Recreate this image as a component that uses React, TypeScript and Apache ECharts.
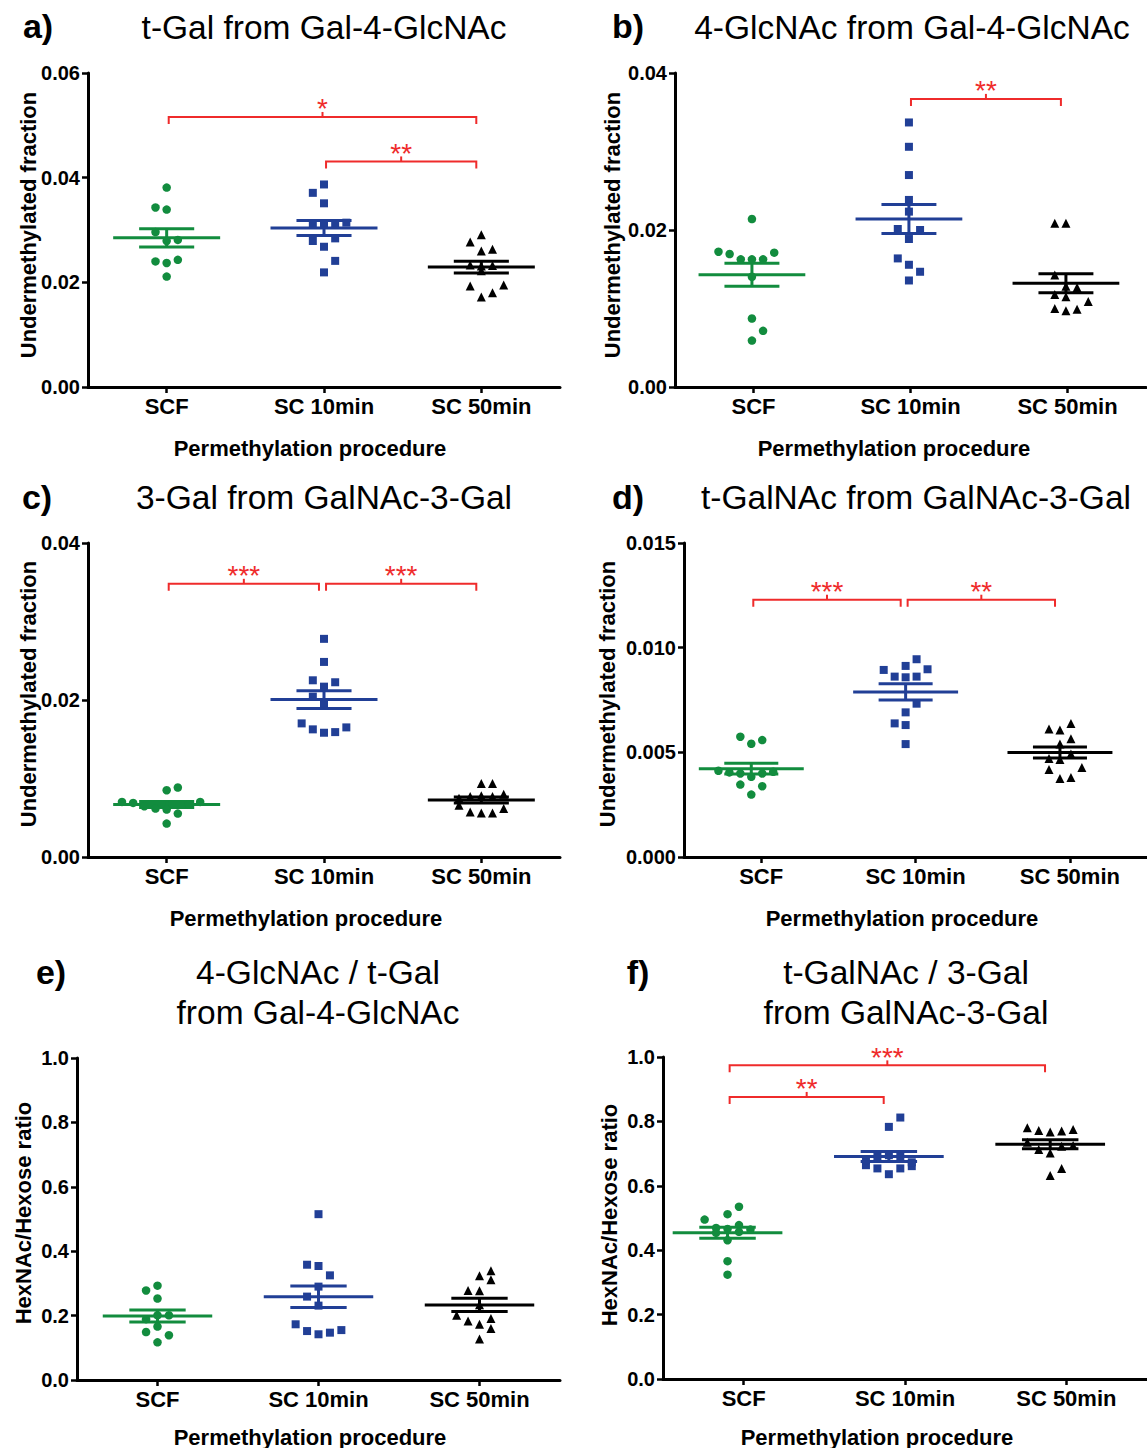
import React, { useEffect, useRef } from "react";
import * as echarts from "echarts";

const categories = ["SCF", "SC 10min", "SC 50min"];

// ---- Panel a: t-Gal from Gal-4-GlcNAc ----
const aSCF = [0.0381, 0.0343, 0.0339, 0.0296, 0.0279, 0.0281, 0.024, 0.0237, 0.0243, 0.0211];
const aSCFSlot = [0, -1, 0, -1, 0, 1, -1, 0, 1, 0];
const aSC10 = [0.0387, 0.0371, 0.0351, 0.0311, 0.0311, 0.0311, 0.0314, 0.0279, 0.0284, 0.0268, 0.0241, 0.0219];
const aSC10Slot = [0, -1, 0, -1, 0, 1, 2, -1, 1, 0, 1, 0];
const aSC50 = [0.0291, 0.0277, 0.026, 0.0263, 0.0233, 0.0231, 0.0232, 0.0222, 0.0193, 0.0195, 0.018, 0.0172];
const aSC50Slot = [0, -1, 0, 1, -1, 0, 1, 0, -1, 2, 1, 0];
const aBracketPairs = [[0, 2], [1, 2]];
const aBracketY = [0.0516, 0.0431];
const aBracketStars = ["*", "**"];

// ---- Panel b: 4-GlcNAc from Gal-4-GlcNAc ----
const bSCF = [0.0214, 0.01723, 0.01694, 0.01626, 0.01626, 0.01626, 0.01711, 0.01404, 0.00872, 0.00715, 0.00591];
const bSCFSlot = [0, -3, -2, -1, 0, 1, 2, 0, 0, 1, 0];
const bSC10 = [0.0337, 0.0306, 0.027, 0.02383, 0.02234, 0.02013, 0.02, 0.01885, 0.01638, 0.01557, 0.01468, 0.01357];
const bSC10Slot = [0, 0, 0, 0, 0, -1, 1, 0, -1, 0, 1, 0];
const bSC50 = [0.02085, 0.02085, 0.01426, 0.01285, 0.01268, 0.01179, 0.01149, 0.01089, 0.01, 0.0097, 0.00991];
const bSC50Slot = [-1, 0, -1, 0, 1, -1, 0, 2, -1, 0, 1];
const bBracketPairs = [[1, 2]];
const bBracketY = [0.0367];
const bBracketStars = ["**"];

// ---- Panel c: 3-Gal from GalNAc-3-Gal ----
const cSCF = [0.00851, 0.00885, 0.00702, 0.00689, 0.00647, 0.00617, 0.00604, 0.00672, 0.00702, 0.00553, 0.00426];
const cSCFSlot = [0, 1, -4, -3, -2, -1, 0, 2, 3, 1, 0];
const cSC10 = [0.02779, 0.02485, 0.02251, 0.02226, 0.0217, 0.02043, 0.01957, 0.01702, 0.01626, 0.01583, 0.01591, 0.01651];
const cSC10Slot = [0, 0, -1, 1, 0, -1, 0, -2, -1, 0, 1, 2];
const cSC50 = [0.00936, 0.00936, 0.008, 0.0075, 0.0077, 0.0078, 0.0077, 0.0066, 0.00574, 0.00562, 0.00562, 0.00617];
const cSC50Slot = [0, 1, 2, -2, -1, 0, 1, -2, -1, 0, 1, 2];
const cBracketPairs = [[0, 1], [1, 2]];
const cBracketY = [0.0348, 0.0348];
const cBracketStars = ["***", "***"];

// ---- Panel d: t-GalNAc from GalNAc-3-Gal ----
const dSCF = [0.005745, 0.00541, 0.005585, 0.00412, 0.00404, 0.00399, 0.00383, 0.00399, 0.00407, 0.00346, 0.00338, 0.00298];
const dSCFSlot = [-1, 0, 1, -3, -2, -1, 0, 1, 2, -1, 1, 0];
const dSC10 = [0.009447, 0.008936, 0.009128, 0.008968, 0.008617, 0.008585, 0.008617, 0.007324, 0.00691, 0.006383, 0.006303, 0.005394];
const dSC10Slot = [1, -2, 0, 2, -1, 0, 1, 1, 0, -1, 0, 0];
const dSC50 = [0.006383, 0.006112, 0.006064, 0.005649, 0.005394, 0.004915, 0.004707, 0.00466, 0.004181, 0.004277, 0.00375, 0.003798];
const dSC50Slot = [1, -1, 0, 1, 0, 1, -1, 0, -1, 2, 0, 1];
const dBracketPairs = [[0, 1], [1, 2]];
const dBracketY = [0.01229, 0.01229];
const dBracketStars = ["***", "**"];

// ---- Panel e: 4-GlcNAc / t-Gal ratio ----
const eSCF = [0.293, 0.278, 0.253, 0.201, 0.189, 0.201, 0.166, 0.149, 0.139, 0.117];
const eSCFSlot = [0, -1, 0, 1, -1, 0, 0, -1, 1, 0];
const eSC10 = [0.515, 0.358, 0.354, 0.325, 0.29, 0.259, 0.231, 0.173, 0.152, 0.142, 0.147, 0.155];
const eSC10Slot = [0, -1, 0, 1, 0, -1, 0, -2, -1, 0, 1, 2];
const eSC50 = [0.339, 0.324, 0.311, 0.278, 0.277, 0.234, 0.201, 0.191, 0.183, 0.173, 0.16, 0.127];
const eSC50Slot = [1, 0, 1, -1, 0, 0, -2, 1, -1, 0, 1, 0];
const eBracketPairs: number[][] = [];
const eBracketY: number[] = [];
const eBracketStars: string[] = [];

// ---- Panel f: t-GalNAc / 3-Gal ratio ----
const fSCF = [0.535, 0.512, 0.495, 0.469, 0.466, 0.478, 0.464, 0.431, 0.366, 0.324, 0.454, 0.457];
const fSCFSlot = [1, 0, -2, -1, 0, 1, 2, 0, 0, 0, -1, 1];
const fSC10 = [0.812, 0.783, 0.664, 0.654, 0.654, 0.661, 0.636, 0.69, 0.695, 0.69, 0.68, 0.673];
const fSC10Slot = [1, 0, -2, -1, 1, 2, 0, -1, 0, 1, -2, 2];
const fSC50 = [0.78, 0.772, 0.767, 0.77, 0.775, 0.713, 0.702, 0.654, 0.632, 0.735, 0.723, 0.725];
const fSC50Slot = [-2, -1, 0, 1, 2, -1, 0, 1, 0, -2, 1, 2];
const fBracketPairs = [[0, 2], [0, 1]];
const fBracketY = [0.974, 0.876];
const fBracketStars = ["***", "**"];

// ---- styling / layout ----
const W = 1147;
const H = 1448;
const FONT = '"Liberation Sans", Arial, sans-serif';
const GREEN = "#128c3e";
const BLUE = "#213f96";
const BLACK = "#000000";
const RED = "#ef2b2b";
const SLOT = 0.071;
const groupStyles = [
  { color: GREEN, symbol: "circle", size: 8.5 },
  { color: BLUE, symbol: "rect", size: 8 },
  { color: BLACK, symbol: "triangle", size: 9 },
];

const UM = "Undermethylated fraction";
const HX = "HexNAc/Hexose ratio";
const XN = "Permethylation procedure";

const panels = [
  {
    letter: "a)", letterPos: [38, 26], title: ["t-Gal from Gal-4-GlcNAc"], titlePos: [324, 27],
    yName: UM, yNamePos: [28, 225], xNamePos: [310, 448],
    grid: { left: 88, top: 73, width: 472, height: 314 }, yMax: 0.06, yInterval: 0.02, digits: 2, shift: 0,
    groups: [aSCF, aSC10, aSC50], slots: [aSCFSlot, aSC10Slot, aSC50Slot],
    bPairs: aBracketPairs, bY: aBracketY, bStars: aBracketStars,
  },
  {
    letter: "b)", letterPos: [628, 26], title: ["4-GlcNAc from Gal-4-GlcNAc"], titlePos: [912, 27],
    yName: UM, yNamePos: [612, 225], xNamePos: [894, 448],
    grid: { left: 675, top: 73, width: 471, height: 314 }, yMax: 0.04, yInterval: 0.02, digits: 2, shift: -0.01,
    groups: [bSCF, bSC10, bSC50], slots: [bSCFSlot, bSC10Slot, bSC50Slot],
    bPairs: bBracketPairs, bY: bBracketY, bStars: bBracketStars,
  },
  {
    letter: "c)", letterPos: [37, 497], title: ["3-Gal from GalNAc-3-Gal"], titlePos: [324, 497],
    yName: UM, yNamePos: [28, 694], xNamePos: [306, 918],
    grid: { left: 88, top: 543, width: 472, height: 314 }, yMax: 0.04, yInterval: 0.02, digits: 2, shift: 0,
    groups: [cSCF, cSC10, cSC50], slots: [cSCFSlot, cSC10Slot, cSC50Slot],
    bPairs: cBracketPairs, bY: cBracketY, bStars: cBracketStars,
  },
  {
    letter: "d)", letterPos: [628, 497], title: ["t-GalNAc from GalNAc-3-Gal"], titlePos: [916, 497],
    yName: UM, yNamePos: [607, 694], xNamePos: [902, 918],
    grid: { left: 684, top: 543, width: 472, height: 314 }, yMax: 0.015, yInterval: 0.005, digits: 3, shift: -0.064,
    groups: [dSCF, dSC10, dSC50], slots: [dSCFSlot, dSC10Slot, dSC50Slot],
    bPairs: dBracketPairs, bY: dBracketY, bStars: dBracketStars,
  },
  {
    letter: "e)", letterPos: [51, 972], title: ["4-GlcNAc / t-Gal", "from Gal-4-GlcNAc"], titlePos: [318, 972],
    yName: HX, yNamePos: [23, 1213], xNamePos: [310, 1437],
    grid: { left: 77, top: 1058, width: 483, height: 322 }, yMax: 1.0, yInterval: 0.2, digits: 1, shift: 0,
    groups: [eSCF, eSC10, eSC50], slots: [eSCFSlot, eSC10Slot, eSC50Slot],
    bPairs: eBracketPairs, bY: eBracketY, bStars: eBracketStars,
  },
  {
    letter: "f)", letterPos: [638, 972], title: ["t-GalNAc / 3-Gal", "from GalNAc-3-Gal"], titlePos: [906, 972],
    yName: HX, yNamePos: [609, 1215], xNamePos: [877, 1437],
    grid: { left: 663, top: 1057, width: 484, height: 322 }, yMax: 1.0, yInterval: 0.2, digits: 1, shift: -0.1,
    groups: [fSCF, fSC10, fSC50], slots: [fSCFSlot, fSC10Slot, fSC50Slot],
    bPairs: fBracketPairs, bY: fBracketY, bStars: fBracketStars,
  },
];

function meanSem(v: number[]) {
  const n = v.length;
  const m = v.reduce((s, x) => s + x, 0) / n;
  const sd = Math.sqrt(v.reduce((s, x) => s + (x - m) * (x - m), 0) / (n - 1));
  return [m, sd / Math.sqrt(n)];
}

function buildOption() {
  const grid: any[] = [];
  const xAxis: any[] = [];
  const yAxis: any[] = [];
  const series: any[] = [];
  const graphic: any[] = [];

  panels.forEach((p, i) => {
    grid.push({ ...p.grid });
    xAxis.push({
      gridIndex: i, type: "category", data: categories, boundaryGap: true,
      axisLine: { show: true, onZero: false, lineStyle: { color: "#000", width: 3 } },
      axisTick: { show: true, alignWithLabel: true, length: 6, lineStyle: { color: "#000", width: 2.5 } },
      axisLabel: { color: "#000", fontFamily: FONT, fontWeight: "bold", fontSize: 22, margin: 8 },
      splitLine: { show: false },
    });
    xAxis.push({ gridIndex: i, type: "value", min: 0, max: 3, show: false });
    yAxis.push({
      gridIndex: i, type: "value", min: 0, max: p.yMax, interval: p.yInterval,
      axisLine: { show: true, onZero: false, lineStyle: { color: "#000", width: 3 } },
      axisTick: { show: true, length: 6, lineStyle: { color: "#000", width: 2.5 } },
      axisLabel: {
        color: "#000", fontFamily: FONT, fontWeight: "bold", fontSize: 20, margin: 8,
        formatter: (v: number) => v.toFixed(p.digits),
      },
      splitLine: { show: false },
    });

    const xIdx = 2 * i + 1;
    const stats: number[][] = [];
    p.groups.forEach((vals, g) => {
      const center = g + 0.5 + p.shift;
      const st = meanSem(vals);
      stats.push([center, st[0], st[1]]);
    });

    // mean and SEM
    series.push({
      type: "custom", xAxisIndex: xIdx, yAxisIndex: i, z: 2, clip: false,
      encode: { x: 0, y: 1 },
      data: stats,
      renderItem: (params: any, api: any) => {
        const x = api.value(0), m = api.value(1), s = api.value(2);
        const color = groupStyles[params.dataIndex].color;
        const c = api.coord([x, m]);
        const top = api.coord([x, m + s]);
        const bot = api.coord([x, m - s]);
        const l = api.coord([x - 0.34, m])[0];
        const r = api.coord([x + 0.34, m])[0];
        const wl = api.coord([x - 0.175, m])[0];
        const wr = api.coord([x + 0.175, m])[0];
        const st = { stroke: color, lineWidth: 3 };
        return {
          type: "group",
          children: [
            { type: "line", shape: { x1: l, y1: c[1], x2: r, y2: c[1] }, style: st },
            { type: "line", shape: { x1: wl, y1: top[1], x2: wr, y2: top[1] }, style: st },
            { type: "line", shape: { x1: wl, y1: bot[1], x2: wr, y2: bot[1] }, style: st },
            { type: "line", shape: { x1: c[0], y1: top[1], x2: c[0], y2: bot[1] }, style: st },
          ],
        };
      },
    });

    // points
    p.groups.forEach((vals, g) => {
      const gs = groupStyles[g];
      const center = g + 0.5 + p.shift;
      series.push({
        type: "scatter", xAxisIndex: xIdx, yAxisIndex: i, z: 3,
        symbol: gs.symbol, symbolSize: gs.size,
        itemStyle: { color: gs.color, opacity: 1 },
        data: vals.map((v, k) => [center + p.slots[g][k] * SLOT, v]),
      });
    });

    // significance brackets
    if (p.bPairs.length) {
      const stars = p.bStars;
      series.push({
        type: "custom", xAxisIndex: xIdx, yAxisIndex: i, z: 4, clip: false,
        encode: { x: [0, 1], y: 2 },
        data: p.bPairs.map((pr, k) => [pr[0] + 0.5 + p.shift + 0.013, pr[1] + 0.5 + p.shift - 0.032, p.bY[k]]),
        renderItem: (params: any, api: any) => {
          const p1 = api.coord([api.value(0), api.value(2)]);
          const p2 = api.coord([api.value(1), api.value(2)]);
          const xm = (p1[0] + p2[0]) / 2;
          const y = p1[1];
          const st = { stroke: RED, lineWidth: 2, fill: "none" };
          return {
            type: "group",
            children: [
              { type: "polyline", shape: { points: [[p1[0], y + 7], [p1[0], y], [p2[0], y], [p2[0], y + 7]] }, style: st },
              { type: "line", shape: { x1: xm, y1: y, x2: xm, y2: y - 5 }, style: st },
              {
                type: "text", x: xm, y: y + 6,
                style: {
                  text: stars[params.dataIndex], fill: RED, font: `28px ${FONT}`,
                  textAlign: "center", textVerticalAlign: "bottom", align: "center", verticalAlign: "bottom",
                },
              },
            ],
          };
        },
      });
    }

    // texts
    graphic.push({
      type: "text", x: p.letterPos[0], y: p.letterPos[1], silent: true,
      style: { text: p.letter, fill: "#000", font: `bold 34px ${FONT}`, textAlign: "center", textVerticalAlign: "middle" },
    });
    p.title.forEach((t, k) => {
      graphic.push({
        type: "text", x: p.titlePos[0], y: p.titlePos[1] + k * 40, silent: true,
        style: { text: t, fill: "#000", font: `33.5px ${FONT}`, textAlign: "center", textVerticalAlign: "middle" },
      });
    });
    graphic.push({
      type: "text", x: p.yNamePos[0], y: p.yNamePos[1], rotation: Math.PI / 2, silent: true,
      style: { text: p.yName, fill: "#000", font: `bold 22px ${FONT}`, textAlign: "center", textVerticalAlign: "middle" },
    });
    graphic.push({
      type: "text", x: p.xNamePos[0], y: p.xNamePos[1], silent: true,
      style: { text: XN, fill: "#000", font: `bold 22px ${FONT}`, textAlign: "center", textVerticalAlign: "middle" },
    });
  });

  return {
    animation: false,
    backgroundColor: "#ffffff",
    textStyle: { fontFamily: FONT },
    grid, xAxis, yAxis, series, graphic,
  };
}

export default function App() {
  const ref = useRef<HTMLDivElement>(null);
  useEffect(() => {
    document.body.style.margin = "0";
    const chart = echarts.init(ref.current as HTMLDivElement, null, { renderer: "svg", width: W, height: H });
    chart.setOption(buildOption() as any);
    return () => chart.dispose();
  }, []);
  return (
    <div
      ref={ref}
      style={{ position: "absolute", left: 0, top: 0, width: W, height: H, background: "#fff" }}
    />
  );
}
